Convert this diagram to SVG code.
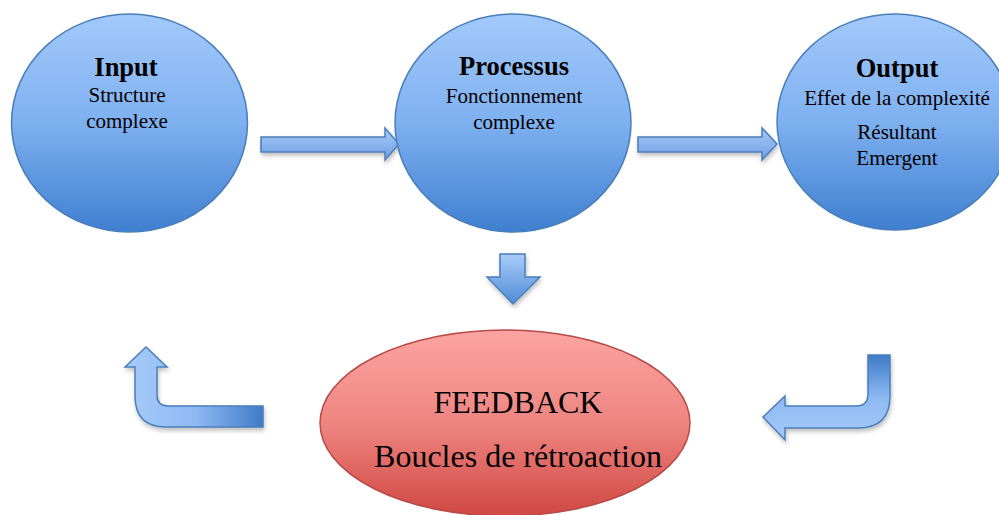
<svg xmlns="http://www.w3.org/2000/svg" width="999" height="515" viewBox="0 0 999 515">
<defs>
<linearGradient id="gBlue" x1="0" y1="0" x2="0" y2="1">
<stop offset="0" stop-color="#A3C9FA"/>
<stop offset="0.5" stop-color="#7EB0F0"/>
<stop offset="1" stop-color="#3F7FCF"/>
</linearGradient>
<linearGradient id="gRed" x1="0" y1="0" x2="0" y2="1">
<stop offset="0" stop-color="#FBA4A1"/>
<stop offset="0.5" stop-color="#EE8581"/>
<stop offset="1" stop-color="#D04843"/>
</linearGradient>
<linearGradient id="gArrowH" x1="0" y1="0" x2="0" y2="1">
<stop offset="0" stop-color="#A6CAF8"/>
<stop offset="1" stop-color="#6E9FE2"/>
</linearGradient>
<linearGradient id="gDown" x1="0" y1="0" x2="0" y2="1">
<stop offset="0" stop-color="#A9CCF9"/>
<stop offset="1" stop-color="#4F8BD6"/>
</linearGradient>
<linearGradient id="gLU" gradientUnits="userSpaceOnUse" x1="130" y1="0" x2="263" y2="0">
<stop offset="0" stop-color="#A6CAF8"/>
<stop offset="0.5" stop-color="#8DB9F3"/>
<stop offset="1" stop-color="#3F7BC8"/>
</linearGradient>
<linearGradient id="gRU" gradientUnits="userSpaceOnUse" x1="0" y1="355" x2="0" y2="440">
<stop offset="0" stop-color="#3F7BC8"/>
<stop offset="0.5" stop-color="#8DB9F3"/>
<stop offset="1" stop-color="#A6CAF8"/>
</linearGradient>
<filter id="sh" x="-20%" y="-20%" width="140%" height="160%">
<feDropShadow dx="1" dy="3" stdDeviation="2" flood-color="#000" flood-opacity="0.25"/>
</filter>
</defs>
<style>
.node{stroke:#4A7EBB;stroke-width:1.5;fill:url(#gBlue)}
.fb{stroke:#B84A47;stroke-width:1.5;fill:url(#gRed)}
.arr{stroke:#4A7EBB;stroke-width:1.5;stroke-linejoin:miter;filter:url(#sh)}
.t{font-family:"Liberation Serif","Times New Roman",serif;fill:#000;text-anchor:middle}
.title{font-size:26.5px;font-weight:bold}
.sub{font-size:21px}
.big{font-size:32px}
</style>
<rect width="999" height="515" fill="#FFFFFF"/>

<g id="connectors">
<path class="arr" fill="url(#gArrowH)" d="M261,137 L385,137 L385,128 L399,144 L385,160 L385,152 L261,152 Z"/>
<path class="arr" fill="url(#gArrowH)" d="M638,137 L762,137 L762,128 L777,144 L762,160 L762,152 L638,152 Z"/>
<path class="arr" fill="url(#gDown)" d="M500,254 L525,254 L525,277 L540,277 L513,304 L487,277 L500,277 Z"/>
<path class="arr" fill="url(#gLU)" d="M263,406 L168,406 Q157,406 157,395 L157,367 L167,367 L146,347 L125,367 L135,367 L135,396 Q135,427 166,427 L263,427 Z"/>
<path class="arr" fill="url(#gRU)" d="M868,355 L890,355 L890,396 Q890,428 858,428 L785,428 L785,440 L763,417 L785,396 L785,406 L856,406 Q868,406 868,394 Z"/>
</g>

<g id="input">
<ellipse class="node" cx="129.5" cy="123" rx="118" ry="109"/>
<text class="t title" x="126" y="76">Input</text>
<text class="t sub" x="127" y="102">Structure</text>
<text class="t sub" x="127" y="128">complexe</text>
</g>

<g id="processus">
<ellipse class="node" cx="513" cy="123" rx="118" ry="109"/>
<text class="t title" x="514" y="75">Processus</text>
<text class="t sub" x="514" y="103">Fonctionnement</text>
<text class="t sub" x="514" y="129">complexe</text>
</g>

<g id="output">
<ellipse class="node" cx="895" cy="122" rx="118" ry="108"/>
<text class="t title" x="897" y="77">Output</text>
<text class="t sub" x="897" y="105">Effet de la complexité</text>
<text class="t sub" x="897" y="139">Résultant</text>
<text class="t sub" x="897" y="165">Emergent</text>
</g>

<g id="feedback">
<ellipse class="fb" cx="505" cy="423" rx="185" ry="93"/>
<text class="t big" x="518" y="413">FEEDBACK</text>
<text class="t big" x="518" y="467">Boucles de rétroaction</text>
</g>
</svg>
